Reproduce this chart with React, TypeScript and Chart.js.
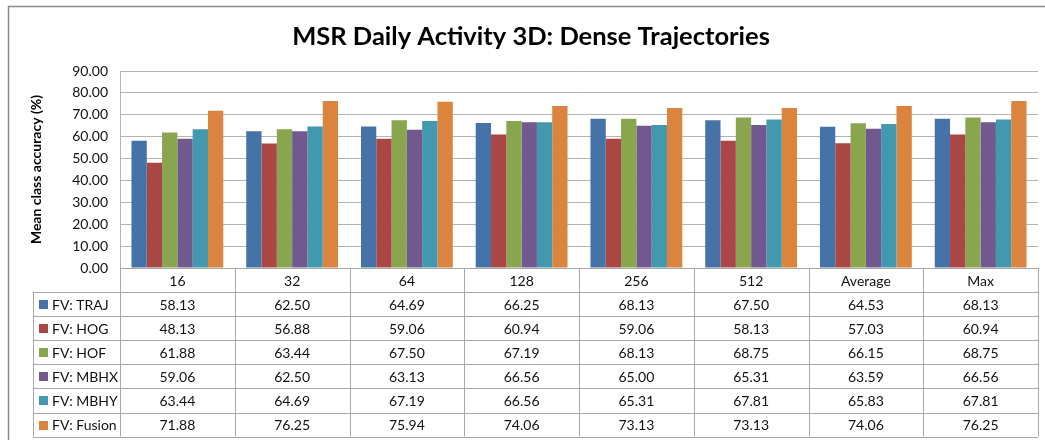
import React, { useEffect, useRef } from "react";
import { Chart, registerables } from "chart.js";

Chart.register(...registerables);

const chartTitle = "MSR Daily Activity 3D: Dense Trajectories";
const yAxisTitle = "Mean class accuracy (%)";
const categories = ["16", "32", "64", "128", "256", "512", "Average", "Max"];
const seriesNames = ["FV: TRAJ", "FV: HOG", "FV: HOF", "FV: MBHX", "FV: MBHY", "FV: Fusion"];
const trajValues = [58.13, 62.5, 64.69, 66.25, 68.13, 67.5, 64.53, 68.13];
const hogValues = [48.13, 56.88, 59.06, 60.94, 59.06, 58.13, 57.03, 60.94];
const hofValues = [61.88, 63.44, 67.5, 67.19, 68.13, 68.75, 66.15, 68.75];
const mbhxValues = [59.06, 62.5, 63.13, 66.56, 65.0, 65.31, 63.59, 66.56];
const mbhyValues = [63.44, 64.69, 67.19, 66.56, 65.31, 67.81, 65.83, 67.81];
const fusionValues = [71.88, 76.25, 75.94, 74.06, 73.13, 73.13, 74.06, 76.25];
const seriesColors = ["#4572A7", "#AA4643", "#89A54E", "#71588F", "#4198AF", "#DB843D"];
const yMin = 0;
const yMax = 90;
const yStep = 10;

const allValues = [trajValues, hogValues, hofValues, mbhxValues, mbhyValues, fusionValues];

const FONT = "Lato, 'Open Sans', sans-serif";
const GRID = "#b4b4b4";
const TABLE_LINE = "#a8a8a8";

const frameAndTablePlugin = {
  id: "frameAndTable",
  beforeDraw(chart: any) {
    const ctx = chart.ctx;
    ctx.save();
    ctx.fillStyle = "#ffffff";
    ctx.fillRect(0, 0, chart.width, chart.height);
    ctx.strokeStyle = "#8a8a8a";
    ctx.lineWidth = 1.5;
    ctx.strokeRect(8.5, 6.5, chart.width + 50, chart.height + 50);
    ctx.fillStyle = "#000000";
    ctx.font = `bold 25.5px ${FONT}`;
    ctx.textAlign = "center";
    ctx.textBaseline = "middle";
    ctx.fillText(chartTitle, 531, 37);
    ctx.restore();
  },
  afterDraw(chart: any) {
    const ctx = chart.ctx;
    const area = chart.chartArea;
    const x = chart.scales.x;
    const n = categories.length;
    const catW = (area.right - area.left) / n;
    const top = area.bottom;
    const headerH = 24;
    const rowH = 24.1;
    const legendLeft = 33;
    const bottom = top + headerH + rowH * seriesNames.length;

    ctx.save();
    ctx.strokeStyle = TABLE_LINE;
    ctx.lineWidth = 1;
    const hline = (x1: number, x2: number, y: number) => {
      ctx.beginPath();
      ctx.moveTo(x1, Math.round(y) + 0.5);
      ctx.lineTo(x2, Math.round(y) + 0.5);
      ctx.stroke();
    };
    const vline = (xx: number, y1: number, y2: number) => {
      ctx.beginPath();
      ctx.moveTo(Math.round(xx) + 0.5, y1);
      ctx.lineTo(Math.round(xx) + 0.5, y2);
      ctx.stroke();
    };
    hline(area.left, area.right, top);
    hline(legendLeft, area.right, top + headerH);
    for (let r = 1; r <= seriesNames.length; r++) {
      hline(legendLeft, area.right, top + headerH + rowH * r);
    }
    vline(legendLeft, top + headerH, bottom);
    for (let i = 0; i <= n; i++) {
      const bx = i < n ? x.getPixelForValue(i) - catW / 2 : x.getPixelForValue(n - 1) + catW / 2;
      vline(bx, top, bottom);
    }

    ctx.fillStyle = "#111111";
    ctx.font = `14px ${FONT}`;
    ctx.textAlign = "center";
    ctx.textBaseline = "middle";
    categories.forEach((c, i) => {
      ctx.fillText(c, x.getPixelForValue(i), top + headerH / 2 + 1);
    });
    seriesNames.forEach((name, r) => {
      const cy = top + headerH + rowH * r + rowH / 2 + 1;
      ctx.fillStyle = seriesColors[r];
      ctx.fillRect(39, Math.round(cy - 5), 9, 9);
      ctx.fillStyle = "#111111";
      ctx.textAlign = "left";
      ctx.fillText(name, 52, cy);
      ctx.textAlign = "center";
      const ds = chart.data.datasets[r].data as number[];
      ds.forEach((v, i) => {
        ctx.fillText(v.toFixed(2), x.getPixelForValue(i), cy);
      });
    });
    ctx.restore();
  },
};

export default function App() {
  const canvasRef = useRef<HTMLCanvasElement | null>(null);

  useEffect(() => {
    const canvas = canvasRef.current;
    if (!canvas) return;
    const chart = new Chart(canvas, {
      type: "bar",
      data: {
        labels: categories,
        datasets: seriesNames.map((name, i) => ({
          label: name,
          data: allValues[i],
          backgroundColor: seriesColors[i],
          borderWidth: 0,
          categoryPercentage: 0.8,
          barPercentage: 1.0,
        })),
      },
      options: {
        responsive: false,
        animation: false,
        devicePixelRatio: 1,
        layout: { padding: { left: 0, right: 7, top: 71, bottom: 172 } },
        plugins: {
          legend: { display: false },
          tooltip: { enabled: false },
          title: { display: false },
        },
        scales: {
          x: {
            display: false,
            grid: { display: false },
          },
          y: {
            min: yMin,
            max: yMax,
            afterFit: (scale: any) => {
              scale.width = 120;
            },
            border: { display: true, color: GRID, width: 1 },
            grid: { color: GRID, lineWidth: 1, drawTicks: false },
            ticks: {
              stepSize: yStep,
              padding: 12,
              color: "#111111",
              font: { family: FONT, size: 14 },
              callback: (v: any) => Number(v).toFixed(2),
            },
            title: {
              display: true,
              text: yAxisTitle,
              color: "#000000",
              font: { family: FONT, size: 14, weight: "bold" },
              padding: { top: 28.5, bottom: 0 },
            },
          },
        },
      },
      plugins: [frameAndTablePlugin],
    } as any);
    return () => chart.destroy();
  }, []);

  return (
    <div style={{ position: "absolute", left: 0, top: 0, width: 1045, height: 440 }}>
      <canvas ref={canvasRef} width={1045} height={440} style={{ width: 1045, height: 440, display: "block" }} />
    </div>
  );
}
